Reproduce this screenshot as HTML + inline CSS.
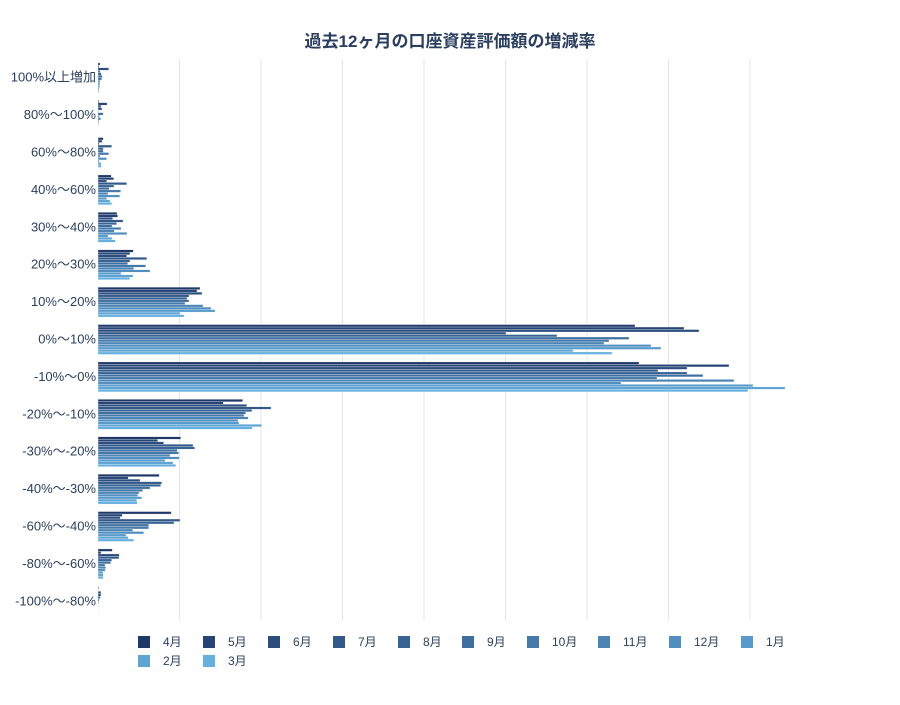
<!DOCTYPE html>
<html><head><meta charset="utf-8">
<style>
body{margin:0;background:#fff;}
svg text{font-family:"Liberation Sans","Noto Sans CJK JP",sans-serif;fill:#2a3f5f;}
</style></head>
<body>
<svg id="chart" width="900" height="700">
<text x="450" y="47" text-anchor="middle" font-size="17" font-weight="bold">過去12ヶ月の口座資産評価額の増減率</text>
<g id="grid"></g><g id="bars"></g><g id="ylabels"></g><g id="legend"></g>
</svg>
<script>
const categories=["100%以上増加","80%～100%","60%～80%","40%～60%","30%～40%","20%～30%","10%～20%","0%～10%","-10%～0%","-20%～-10%","-30%～-20%","-40%～-30%","-60%～-40%","-80%～-60%","-100%～-80%"];
const months=["4月","5月","6月","7月","8月","9月","10月","11月","12月","1月","2月","3月"];
const s4=[2,1,5.3,13.3,19,35.3,102,537,541,144.7,82.7,61.3,73.3,14.3,0.7];
const s5=[1,9,4,15.7,19.7,32,99,586,631,125.3,59.7,30.3,24.3,3,0.3];
const s6=[10.7,3,1.3,8.7,14.7,28.7,104,601,589,148.7,65.7,42,22.3,21.3,3];
const s7=[2,4,13.7,28.7,25,48.7,91,408,560,173,95,63.7,82,21,3];
const s8=[3.3,0.5,5.3,16,18.7,32,89,459,589,154,96.7,62.7,76,13.7,2.3];
const s9=[4.3,5.3,5.3,11.3,14,29.7,91,531,605,147.7,79.3,52,50.7,12.7,1.3];
const s10=[3.7,1.5,10.7,22.7,23,47.7,87,511,559,146,80.7,44.7,50.7,7,0.7];
const s11=[2,2.7,2,10,16.3,35.7,105,506,636,150.3,72,41,34.7,7.7,0.3];
const s12=[1.7,1,8.7,21.7,29,52,113,553,523,140,81.3,39.7,45.7,7.3,0.3];
const s1=[1.7,0.7,1.3,8.7,10,23,117,563,655,141,67,43.7,28,5,0];
const s2=[1.3,0.3,3.3,12,14,35,82,475,687,163.7,75,38.7,30.3,5.3,0.3];
const s3=[1,0.3,3.3,13.7,17.3,31.7,86,514,650,154.3,77.7,39.3,35.7,5.3,0];
const series=[s4,s5,s6,s7,s8,s9,s10,s11,s12,s1,s2,s3];
const gridTicks=[81.5,163,244.5,326,407.5,489,570.5,652];

const NS="http://www.w3.org/2000/svg";
const x0=98,topY=59,band=37.4;
const xs=v=>x0+v;
const yc=i=>topY+band*(i+0.5);
function mk(tag,attrs,parent){const e=document.createElementNS(NS,tag);for(const k in attrs)e.setAttribute(k,attrs[k]);parent.appendChild(e);return e;}
function col(j){const t=j/11;const a=[31,56,106],b=[100,176,224];return `rgb(${a.map((c,i)=>Math.round(c+(b[i]-c)*t)).join(",")})`;}
const G=document.getElementById("grid"),B=document.getElementById("bars"),Y=document.getElementById("ylabels"),L=document.getElementById("legend");
gridTicks.forEach(t=>{const l=mk("line",{x1:xs(t),x2:xs(t),y1:topY,y2:topY+band*15,stroke:"#e5e5e5","stroke-width":1},G);

});
const bh=band*0.8/12;
categories.forEach((c,i)=>{
 const t=mk("text",{x:96,y:yc(i)+4,"text-anchor":"end","font-size":13},Y);t.textContent=c;
 
 
 series.forEach((s,j)=>{
  const y=yc(i)-band*0.4+j*bh;
  const r=mk("rect",{x:x0,y:y,width:Math.max(0,xs(s[i])-x0),height:bh,fill:col(j),stroke:"#fff","stroke-width":0.3},B);
  
  
 });
});
const lx=[138,203,268,333,398,462,527,598,669,741,138,203];
months.forEach((m,j)=>{
 const ly=j<10?642:661;
 const g=mk("g",{},L);
 
 
 mk("rect",{x:lx[j],y:ly-6,width:12,height:12,fill:col(j)},g);
 const t=mk("text",{x:lx[j]+25,y:ly+4,"font-size":12},g);t.textContent=m;
});
</script>
</body></html>
